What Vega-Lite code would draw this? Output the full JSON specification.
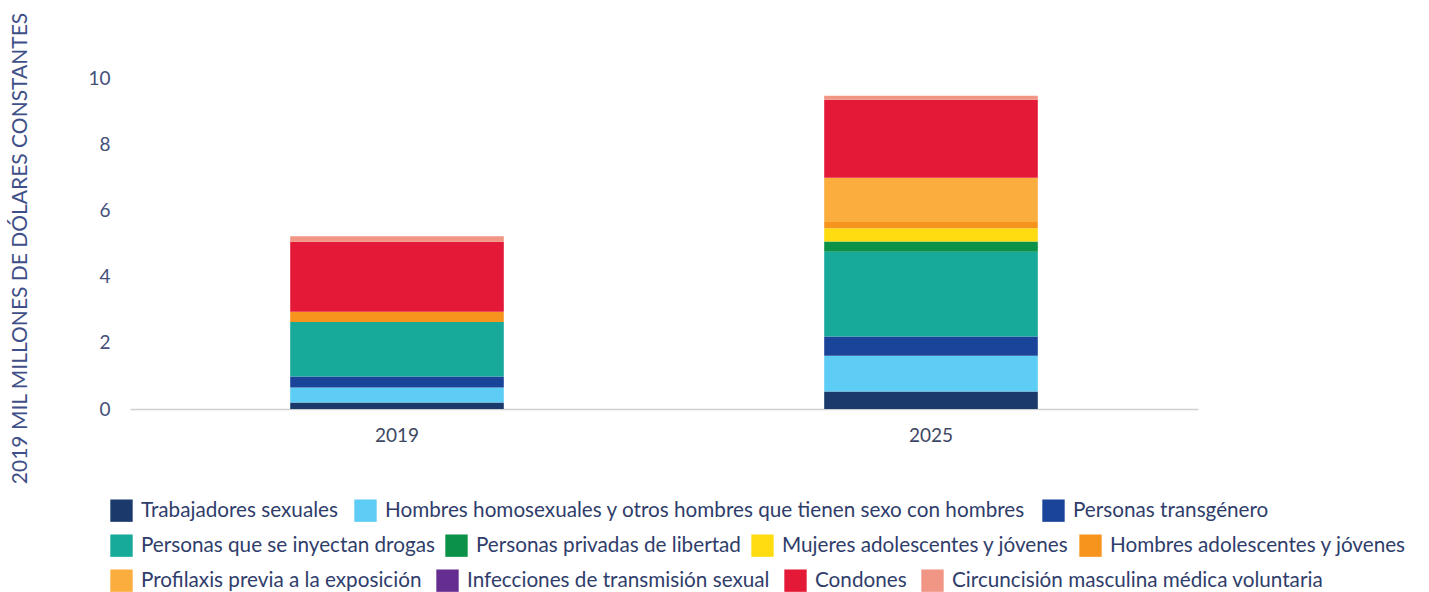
{
  "$schema": "https://vega.github.io/schema/vega-lite/v6.json",
  "autosize": "none",
  "width": 1068,
  "height": 331,
  "padding": {"left": 130, "top": 78, "right": 231, "bottom": 183},
  "background": "white",
  "config": {
    "view": {"stroke": null},
    "font": "Lato",
    "axis": {"labelFont": "Lato", "titleFont": "Lato"},
    "legend": {"labelFont": "Lato"}
  },
  "data": {
    "values": [
      {"year": "2019", "category": "Trabajadores sexuales", "row": 1, "order": 1, "value": 0.2},
      {"year": "2019", "category": "Hombres homosexuales y otros hombres que tienen sexo con hombres", "row": 1, "order": 2, "value": 0.45},
      {"year": "2019", "category": "Personas transgénero", "row": 1, "order": 3, "value": 0.33},
      {"year": "2019", "category": "Personas que se inyectan drogas", "row": 2, "order": 4, "value": 1.65},
      {"year": "2019", "category": "Personas privadas de libertad", "row": 2, "order": 5, "value": 0},
      {"year": "2019", "category": "Mujeres adolescentes y jóvenes", "row": 2, "order": 6, "value": 0},
      {"year": "2019", "category": "Hombres adolescentes y jóvenes", "row": 2, "order": 7, "value": 0.31},
      {"year": "2019", "category": "Profilaxis previa a la exposición", "row": 3, "order": 8, "value": 0},
      {"year": "2019", "category": "Infecciones de transmisión sexual", "row": 3, "order": 9, "value": 0},
      {"year": "2019", "category": "Condones", "row": 3, "order": 10, "value": 2.11},
      {"year": "2019", "category": "Circuncisión masculina médica voluntaria", "row": 3, "order": 11, "value": 0.17},
      {"year": "2025", "category": "Trabajadores sexuales", "row": 1, "order": 1, "value": 0.53},
      {"year": "2025", "category": "Hombres homosexuales y otros hombres que tienen sexo con hombres", "row": 1, "order": 2, "value": 1.08},
      {"year": "2025", "category": "Personas transgénero", "row": 1, "order": 3, "value": 0.58},
      {"year": "2025", "category": "Personas que se inyectan drogas", "row": 2, "order": 4, "value": 2.56},
      {"year": "2025", "category": "Personas privadas de libertad", "row": 2, "order": 5, "value": 0.31},
      {"year": "2025", "category": "Mujeres adolescentes y jóvenes", "row": 2, "order": 6, "value": 0.4},
      {"year": "2025", "category": "Hombres adolescentes y jóvenes", "row": 2, "order": 7, "value": 0.19},
      {"year": "2025", "category": "Profilaxis previa a la exposición", "row": 3, "order": 8, "value": 1.34},
      {"year": "2025", "category": "Infecciones de transmisión sexual", "row": 3, "order": 9, "value": 0},
      {"year": "2025", "category": "Condones", "row": 3, "order": 10, "value": 2.35},
      {"year": "2025", "category": "Circuncisión masculina médica voluntaria", "row": 3, "order": 11, "value": 0.12}
    ]
  },
  "transform": [
    {"stack": "value", "groupby": ["year"], "sort": [{"field": "order", "order": "ascending"}], "as": ["v0", "v1"]}
  ],
  "encoding": {
    "x": {
      "field": "year", "type": "nominal",
      "scale": {"paddingInner": 0.6, "paddingOuter": 0.3},
      "axis": {"title": null, "labelAngle": 0, "ticks": false, "domainColor": "#cfcfcf", "domainWidth": 1.5, "labelFontSize": 19, "labelColor": "#3d4663", "labelPadding": 17}
    },
    "y": {
      "field": "v0", "type": "quantitative",
      "scale": {"domain": [0, 10], "nice": false},
      "axis": {"title": "2019 MIL MILLONES DE DÓLARES CONSTANTES", "values": [0, 2, 4, 6, 8, 10], "grid": false, "domain": false, "ticks": false, "labelFontSize": 19, "labelColor": "#44507a", "labelPadding": 20, "titleFontSize": 21, "titleFontWeight": "normal", "titleColor": "#3f5088", "titleX": -110, "titleY": 170, "titleAlign": "center", "titleBaseline": "middle", "titleAngle": -90}
    },
    "y2": {"field": "v1"}
  },
  "layer": [
    {
      "transform": [{"filter": "datum.row == 1"}],
      "mark": {"type": "bar"},
      "encoding": {
        "color": {
          "field": "category", "type": "nominal",
          "scale": {"domain": ["Trabajadores sexuales", "Hombres homosexuales y otros hombres que tienen sexo con hombres", "Personas transgénero"], "range": ["#1b3a6b", "#5ecdf5", "#1a449a"]},
          "legend": {"title": null, "orient": "none", "direction": "horizontal", "legendX": -20, "legendY": 421, "symbolType": "square", "symbolSize": 500, "symbolStrokeWidth": 0, "symbolOpacity": 1, "labelFontSize": 20.7, "labelColor": "#2f3d6b", "labelLimit": 800, "columnPadding": 16, "labelOffset": 8}
        }
      }
    },
    {
      "transform": [{"filter": "datum.row == 2"}],
      "mark": {"type": "bar"},
      "encoding": {
        "color": {
          "field": "category", "type": "nominal",
          "scale": {"domain": ["Personas que se inyectan drogas", "Personas privadas de libertad", "Mujeres adolescentes y jóvenes", "Hombres adolescentes y jóvenes"], "range": ["#17a99a", "#0b9148", "#ffdc12", "#f7941d"]},
          "legend": {"title": null, "orient": "none", "direction": "horizontal", "legendX": -20, "legendY": 456, "symbolType": "square", "symbolSize": 500, "symbolStrokeWidth": 0, "symbolOpacity": 1, "labelFontSize": 20.7, "labelColor": "#2f3d6b", "labelLimit": 800, "columnPadding": 10, "labelOffset": 8}
        }
      }
    },
    {
      "transform": [{"filter": "datum.row == 3"}],
      "mark": {"type": "bar"},
      "encoding": {
        "color": {
          "field": "category", "type": "nominal",
          "scale": {"domain": ["Profilaxis previa a la exposición", "Infecciones de transmisión sexual", "Condones", "Circuncisión masculina médica voluntaria"], "range": ["#fbad3e", "#662d91", "#e31937", "#f19585"]},
          "legend": {"title": null, "orient": "none", "direction": "horizontal", "legendX": -20, "legendY": 491, "symbolType": "square", "symbolSize": 500, "symbolStrokeWidth": 0, "symbolOpacity": 1, "labelFontSize": 20.7, "labelColor": "#2f3d6b", "labelLimit": 800, "columnPadding": 14, "labelOffset": 8}
        }
      }
    }
  ],
  "resolve": {"scale": {"color": "independent"}, "legend": {"color": "independent"}}
}
